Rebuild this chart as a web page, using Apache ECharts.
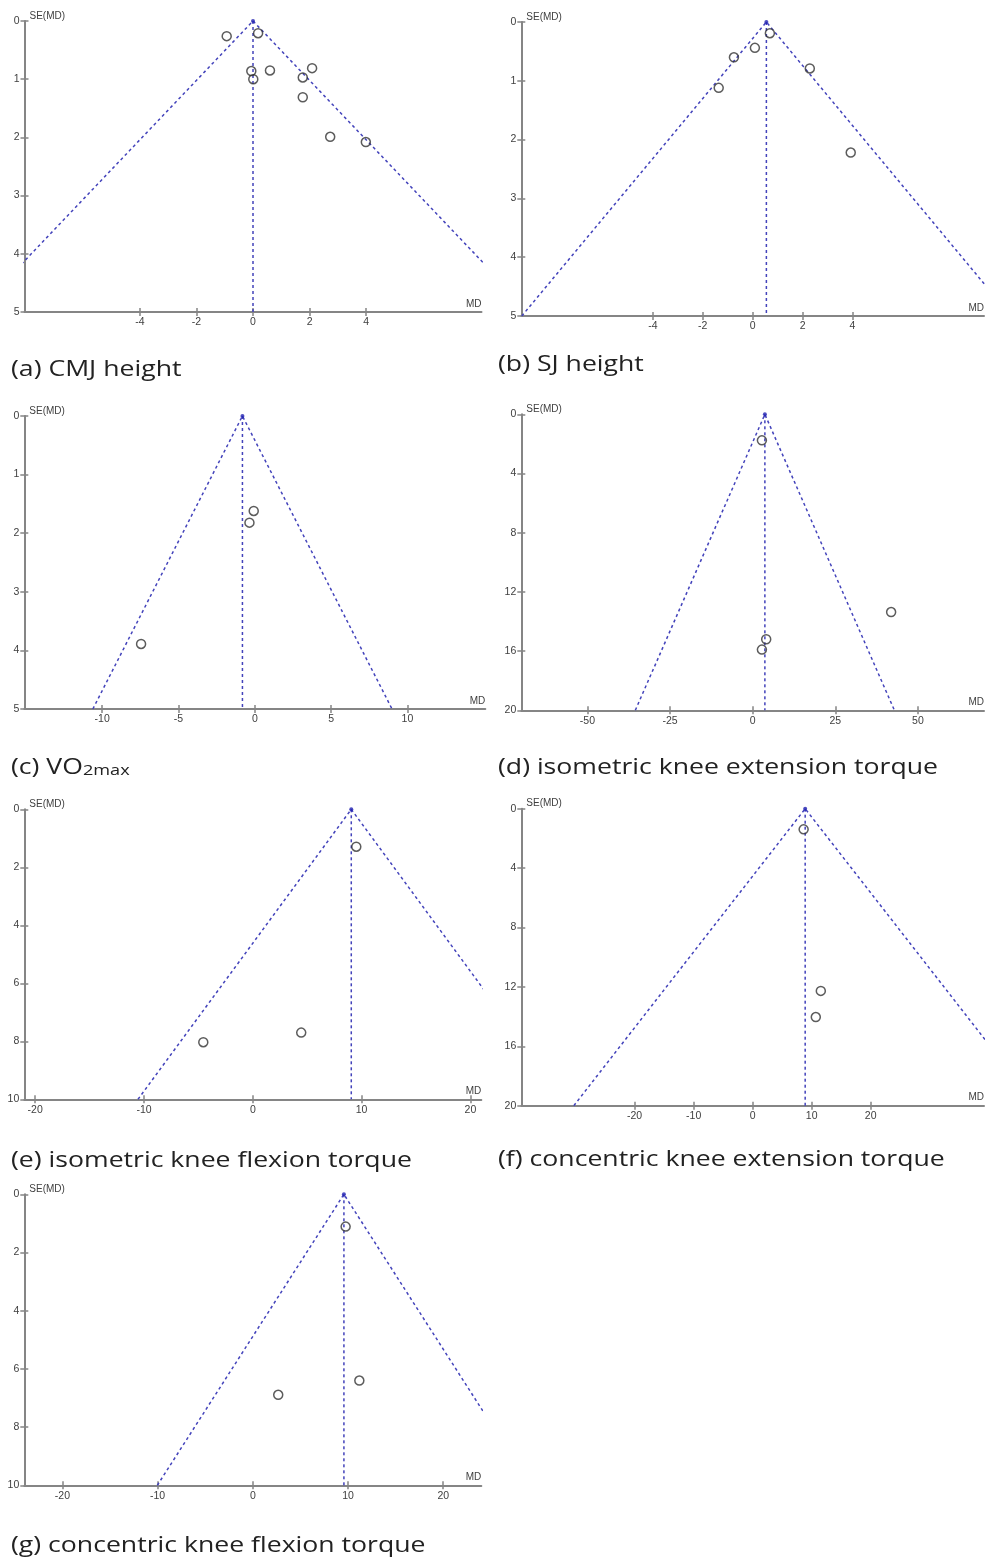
<!DOCTYPE html>
<html>
<head>
<meta charset="utf-8">
<script src="https://cdn.jsdelivr.net/npm/echarts@6/dist/echarts.min.js"></script>
<style>
html,body{margin:0;padding:0;background:#fff;}
#chart{width:985px;height:1560px;}
</style>
</head>
<body>
<div id="chart"></div>
<script>
// ---- data ----
const captions = [
  '(a) CMJ height',
  '(b) SJ height',
  '(c) VO2max',
  '(d) isometric knee extension torque',
  '(e) isometric knee flexion torque',
  '(f) concentric knee extension torque',
  '(g) concentric knee flexion torque'
];
// study mean differences (MD) and standard errors SE(MD)
const mdA = [-0.93, 0.18, -0.06, 0.01, 0.60, 2.09, 1.76, 1.76, 2.73, 3.99];
const seA = [0.26, 0.21, 0.86, 1.00, 0.85, 0.81, 0.97, 1.31, 1.99, 2.08];
const mdB = [0.69, 0.09, -0.75, -1.36, 2.29, 3.93];
const seB = [0.19, 0.44, 0.60, 1.12, 0.79, 2.22];
const mdC = [-0.07, -0.35, -7.45];
const seC = [1.62, 1.82, 3.89];
const mdD = [2.8, 41.9, 4.1, 2.8];
const seD = [1.76, 13.36, 15.2, 15.9];
const mdE = [9.51, 4.45, -4.55];
const seE = [1.29, 7.70, 8.03];
const mdF = [8.64, 11.55, 10.7];
const seF = [1.39, 12.27, 14.03];
const mdG = [9.75, 11.19, 2.67];
const seG = [1.11, 6.40, 6.89];
// pooled estimates (apex of each funnel)
const pooledMD = [0.0, 0.55, -0.81, 3.7, 9.05, 8.9, 9.57];
// axis extents and tick labels
const xMin = [-8.08, -9.27, -15.1, -70, -21, -39.2, -24];
const xMax = [8.08, 9.27, 15.1, 70, 21, 39.2, 24];
const seMax = [5, 5, 5, 20, 10, 20, 10];
const seStep = [1, 1, 1, 4, 2, 4, 2];
const xTicks = [
  [-4, -2, 0, 2, 4],
  [-4, -2, 0, 2, 4],
  [-10, -5, 0, 5, 10],
  [-50, -25, 0, 25, 50],
  [-20, -10, 0, 10, 20],
  [-20, -10, 0, 10, 20],
  [-20, -10, 0, 10, 20]
];
const Z95 = 1.96;

const mdAll = [mdA, mdB, mdC, mdD, mdE, mdF, mdG];
const seAll = [seA, seB, seC, seD, seE, seF, seG];

// ---- layout ----
const grids = [
  {left: 24.5, top: 21, width: 457, height: 291},
  {left: 521.3, top: 22, width: 464, height: 294},
  {left: 24.3, top: 416, width: 461, height: 293},
  {left: 521.3, top: 414.3, width: 465, height: 296},
  {left: 24.3, top: 809.3, width: 457, height: 290},
  {left: 521.3, top: 808.7, width: 466, height: 297},
  {left: 24.3, top: 1194.3, width: 457, height: 291}
];
const capPos = [
  {x: 11, y: 359}, {x: 498, y: 354},
  {x: 11, y: 757}, {x: 498, y: 757},
  {x: 11, y: 1150}, {x: 498, y: 1149},
  {x: 11, y: 1535}
];

const AX = '#858585';
const TXT = '#404040';
const FUN = '#4343bb';
const axFont = 'Liberation Sans, Arial, sans-serif';
const capFont = 'Open Sans, Noto Sans, sans-serif';

const option = {
  animation: false,
  backgroundColor: '#fff',
  graphic: [], grid: [], xAxis: [], yAxis: [], series: []
};

for (let i = 0; i < 7; i++) {
  option.grid.push(Object.assign({containLabel: false}, grids[i]));
  const capTxt = i === 2 ? '{n|(c) VO}{s|2max}' : '{n|' + captions[i] + '}';
  option.graphic.push({
    type: 'text', x: capPos[i].x, y: capPos[i].y, scaleX: 1.21, silent: true,
    style: {
      text: capTxt, verticalAlign: 'top', align: 'left',
      rich: {
        n: {fontFamily: capFont, fontSize: 22, fontWeight: 'normal', fill: '#222', color: '#222'},
        s: {fontFamily: capFont, fontSize: 15, fontWeight: 'normal', fill: '#222', color: '#222', padding: [6, 0, 0, 0]}
      }
    }
  });
  // main x axis (labels + outside ticks)
  option.xAxis.push({
    gridIndex: i, type: 'value', min: xMin[i], max: xMax[i], position: 'bottom',
    axisLine: {show: true, onZero: false, lineStyle: {color: AX, width: 2}},
    axisTick: {show: true, customValues: xTicks[i], length: 4, lineStyle: {color: AX, width: 1.5}},
    axisLabel: {customValues: xTicks[i], color: TXT, fontSize: 10.5, fontFamily: axFont, margin: 5},
    splitLine: {show: false},
    name: 'MD', nameLocation: 'end', nameGap: 0,
    nameTextStyle: {align: 'right', verticalAlign: 'bottom', color: TXT, fontSize: 10, fontFamily: axFont, padding: [0, 0, 3, 0]}
  });
  // companion x axis (inside ticks only, so ticks cross the axis line)
  option.xAxis.push({
    gridIndex: i, type: 'value', min: xMin[i], max: xMax[i], position: 'bottom',
    axisLine: {show: false, onZero: false},
    axisTick: {show: true, inside: true, customValues: xTicks[i], length: 4, lineStyle: {color: AX, width: 1.5}},
    axisLabel: {show: false}, splitLine: {show: false}
  });
  option.yAxis.push({
    gridIndex: i, type: 'value', inverse: true, min: 0, max: seMax[i], interval: seStep[i], position: 'left',
    axisLine: {show: true, onZero: false, lineStyle: {color: AX, width: 2}},
    axisTick: {show: true, length: 4, lineStyle: {color: AX, width: 1.5}},
    axisLabel: {color: TXT, fontSize: 10.5, fontFamily: axFont, margin: 5},
    splitLine: {show: false},
    name: 'SE(MD)', nameLocation: 'start', nameGap: 5,
    nameTextStyle: {align: 'left', verticalAlign: 'middle', color: TXT, fontSize: 10, fontFamily: axFont, padding: [0, 0, 0, 5]}
  });
  option.yAxis.push({
    gridIndex: i, type: 'value', inverse: true, min: 0, max: seMax[i], interval: seStep[i], position: 'left',
    axisLine: {show: false, onZero: false},
    axisTick: {show: true, inside: true, length: 4, lineStyle: {color: AX, width: 1.5}},
    axisLabel: {show: false}, splitLine: {show: false}
  });
  const xi = 2 * i, yi = 2 * i;
  const p = pooledMD[i], sm = seMax[i];
  // funnel 95% limits
  option.series.push({
    type: 'line', xAxisIndex: xi, yAxisIndex: yi, clip: true, symbol: 'none', silent: true,
    data: [[p - Z95 * sm, sm], [p, 0], [p + Z95 * sm, sm]],
    lineStyle: {color: FUN, width: 1.5, type: [3, 3]}, z: 2
  });
  // pooled estimate vertical line
  option.series.push({
    type: 'line', xAxisIndex: xi, yAxisIndex: yi, clip: true, symbol: 'none', silent: true,
    data: [[p, 0], [p, sm]],
    lineStyle: {color: FUN, width: 1.5, type: [3, 3]}, z: 2
  });
  // apex dot
  option.series.push({
    type: 'scatter', xAxisIndex: xi, yAxisIndex: yi, clip: false, silent: true,
    data: [[p, 0]], symbol: 'circle', symbolSize: 4,
    itemStyle: {color: '#1f1fb0'}, z: 3
  });
  // studies
  option.series.push({
    type: 'scatter', xAxisIndex: xi, yAxisIndex: yi, clip: false,
    data: mdAll[i].map((m, k) => [m, seAll[i][k]]),
    symbol: 'circle', symbolSize: 9,
    itemStyle: {color: 'rgba(255,255,255,0)', borderColor: '#333', borderWidth: 1.5}, z: 4
  });
}

const chart = echarts.init(document.getElementById('chart'), null, {renderer: 'canvas', width: 985, height: 1560});
chart.setOption(option);
</script>
</body>
</html>
